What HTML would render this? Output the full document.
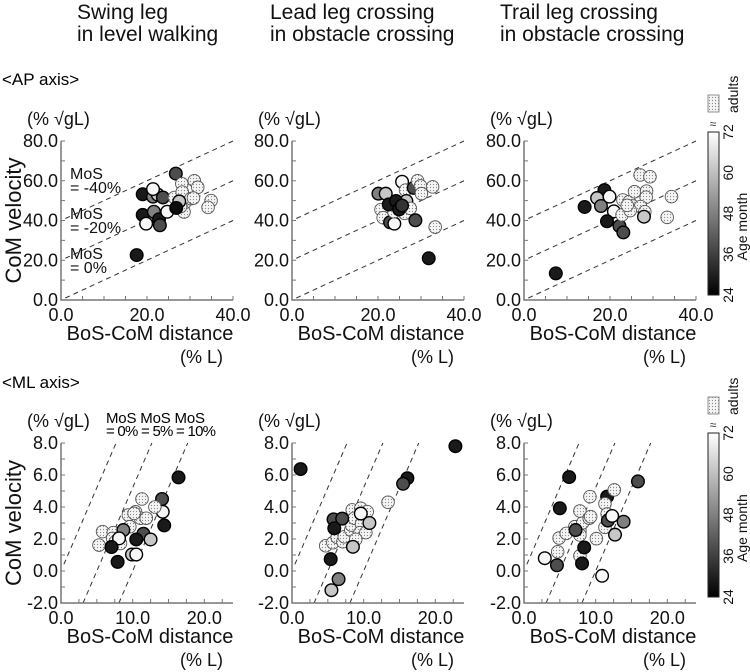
<!DOCTYPE html>
<html><head><meta charset="utf-8"><style>
body{margin:0;background:#fff;}
svg{display:block;font-family:"Liberation Sans",Arial,sans-serif;}
</style></head><body>
<svg id="chart" width="750" height="672" viewBox="0 0 750 672">
<defs>
<pattern id="adultPat" width="3" height="3" patternUnits="userSpaceOnUse">
<rect width="3" height="3" fill="#f4f4f4"/><circle cx="1.5" cy="1.5" r="0.6" fill="#888"/>
</pattern>
<linearGradient id="cbGrad" x1="0" y1="1" x2="0" y2="0"><stop offset="0" stop-color="#000"/><stop offset="1" stop-color="#fff"/></linearGradient>
</defs>
<g font-size="21" fill="#111">
<text x="77" y="19">Swing leg</text>
<text x="77" y="41">in level walking</text>
<text x="270" y="19">Lead leg crossing</text>
<text x="270" y="41">in obstacle crossing</text>
<text x="500" y="19">Trail leg crossing</text>
<text x="500" y="41">in obstacle crossing</text>
</g>
<text x="2" y="85" font-size="17">&lt;AP axis&gt;</text>
<text x="2" y="388" font-size="17">&lt;ML axis&gt;</text>
<text x="106" y="423" font-size="15" textLength="99" lengthAdjust="spacing" xml:space="preserve">MoS MoS MoS</text>
<text x="106" y="436" font-size="15" textLength="110" lengthAdjust="spacing">= 0% = 5% = 10%</text>
<g id="plots"></g>
</svg>
<script>
// AP panels: [x, y, shade] shade -1 = adult
const apSwing=[[19,53.2,0.1],[21.4,52,0.5],[22.5,53,0.78],[23.7,51.6,0.3],[21.4,55.8,0.97],[26.7,63.6,0.3],[19,42.8,0.1],[19.8,38.4,0.97],[21.6,44.4,0.5],[22.8,40.6,0.1],[23,37.6,0.3],[24.7,44.4,0.97],[17.6,22.6,0.1],[26.4,51.6,-1],[28.1,58.5,-1],[31,60,-1],[31.8,56.7,-1],[28.2,54.3,-1],[28.7,48.6,-1],[30.2,51,-1],[30.8,51.3,-1],[28.6,44.3,-1],[34.9,50,-1],[34.2,46.6,-1],[27.8,47,-1],[27.5,49.6,0.78],[26.8,46.3,0.05]];
const apLead=[[20.1,53.5,0.5],[21.8,53.5,0.78],[25.6,59.5,0.97],[26.4,55.3,-1],[26.6,49.8,0.78],[28.3,56.4,0.3],[29.2,60,-1],[29.9,57.4,-1],[30.1,53.5,-1],[32.7,56.9,-1],[20.7,45.5,-1],[21.2,41.4,-1],[22.8,39.1,0.3],[23.8,38.4,0.97],[26.2,43.6,-1],[27.5,46.1,-1],[28.7,40.1,0.3],[33.3,36.7,-1],[31.8,21,0.1],[23.7,44.4,-1],[22.5,48.1,0.1],[24.2,49.8,0.1],[24.9,45.6,0.1],[25.6,47.5,0.2]];
const apTrail=[[7.4,13.4,0.1],[14.1,46.8,0.1],[18.7,55.3,0.1],[17,51.3,0.78],[17.9,47.3,0.5],[19.9,52,0.97],[20.9,44.6,0.97],[19.3,39.6,0.1],[22.2,37.2,0.3],[23.1,34,0.3],[23,50.3,-1],[24.5,49.5,-1],[25.3,47.3,-1],[27,62.9,-1],[29.3,62,-1],[25.7,54.5,-1],[28.5,54.8,-1],[28.4,51.7,-1],[27.1,47,-1],[22.8,42.8,-1],[24.7,45,-1],[28.1,44.4,-1],[34.3,52,-1],[33.3,41.6,-1],[24,47.6,-1],[27.9,41.9,0.78]];
// ML panels
const mlSwing=[[16.4,5.85,0.1],[14.1,4.5,0.3],[14.2,3.7,0.97],[14.4,2.85,0.1],[11.5,2.33,0.3],[12.5,1.97,0.78],[10.5,1.97,0.1],[5.3,1.62,-1],[5.8,2.46,-1],[7.3,2.4,-1],[7.2,2.04,-1],[7.6,1.83,-1],[8.3,1.72,-1],[9.4,3.5,-1],[9.6,2.77,-1],[10.4,3.7,-1],[11.1,3.3,-1],[11.9,3.3,-1],[11.3,4.5,-1],[13.1,4,-1],[10.2,3.6,-1],[8.7,2.56,0.5],[8.1,2.04,0.97],[7.05,1.5,0.1],[7.9,0.57,0.1],[9.9,1.03,0.78],[10.5,1.03,0.97]];
const mlLead=[[1.2,6.37,0.1],[22.8,7.8,0.1],[16.1,5.8,0.1],[15.5,5.45,0.3],[13.4,4.3,-1],[4.7,1.58,-1],[5.7,1.77,-1],[6.3,2.1,-1],[7.1,1.83,-1],[7.3,2.14,-1],[8.2,2.56,-1],[8.3,2.87,-1],[8.4,3.82,-1],[8.7,3.3,-1],[9.6,3.92,-1],[9.7,2.94,-1],[9.5,2.4,-1],[10.3,2.4,-1],[10.5,3.71,-1],[8.9,1.98,-1],[5.8,3.23,0.3],[7,3.27,0.3],[5.9,2.67,0.1],[5.4,0.74,0.1],[6.5,-0.51,0.5],[5.5,-1.2,0.78],[8.5,1.51,0.78],[9.6,3.59,0.97],[10.8,3,0.78]];
const mlTrail=[[6.3,5.87,0.1],[5,3.92,0.1],[11.6,4.65,0.1],[4.7,1.2,-1],[4.9,2.06,-1],[5.9,2.35,-1],[7.1,2.77,-1],[7.8,2.52,-1],[7.8,2.25,-1],[8.2,3.02,-1],[7.8,3.75,-1],[9.1,3.3,-1],[9.3,3.4,-1],[9.2,4.65,-1],[10.1,2.02,-1],[11.3,4.2,-1],[11.3,2.73,-1],[11.6,3.56,-1],[12.6,5.07,-1],[7.8,0.95,-1],[11.7,3.15,0.3],[12.3,3.44,0.97],[13.9,3.08,0.5],[15.9,5.6,0.3],[12.7,2.27,0.78],[8.4,1.47,0.1],[8.1,0.47,0.1],[10.9,-0.3,0.97],[2.9,0.8,0.97],[4.6,0.36,0.3],[7.2,2.56,0.3]];
const apYTicks=[0,20,40,60,80];
const apXTicks=[0,20,40];
const mlYTicks=[-2,0,2,4,6,8];
const mlXTicks=[0,10,20];
const apMoS=[0,-20,-40];
const mlMoS=[0,5,10];
const cbTicks=[24,36,48,60,72];

const NS="http://www.w3.org/2000/svg";
const root=document.getElementById('plots');
function mk(tag,attrs,parent,txt){const e=document.createElementNS(NS,tag);for(const k in attrs)e.setAttribute(k,attrs[k]);if(txt!==undefined)e.textContent=txt;(parent||root).appendChild(e);return e;}
function fmt(v){return v.toFixed(1);}
function shadeColor(s){const g=Math.round(s*255);return 'rgb('+g+','+g+','+g+')';}

function panel(name,ox,oy,w,h,xmin,xmax,ymin,ymax,xticks,yticks,xminor,yminor,data,mosList,mosFn,ytitle){
  const g=mk('g',{});
  
  
  const sx=v=>ox+(v-xmin)/(xmax-xmin)*w;
  const sy=v=>oy-(v-ymin)/(ymax-ymin)*h;
  mosList.forEach(m=>{
    const seg=mosFn(m);
    const l=mk('line',{x1:sx(seg[0]),y1:sy(seg[1]),x2:sx(seg[2]),y2:sy(seg[3]),stroke:'#333','stroke-width':1,'stroke-dasharray':'5,4'},g);
    
    
  });
  const ax=mk('path',{d:'M'+ox+' '+(oy-h)+' V'+oy+' H'+(ox+w),stroke:'#777','stroke-width':1.5,fill:'none'},g);
  
  
  for(let v=xmin;v<=xmax+1e-6;v+=xminor){mk('line',{x1:sx(v),x2:sx(v),y1:oy,y2:oy-4,stroke:'#777'},g);}
  for(let v=ymin;v<=ymax+1e-6;v+=yminor){mk('line',{x1:ox,x2:ox+4,y1:sy(v),y2:sy(v),stroke:'#777'},g);}
  xticks.forEach(v=>{const t=mk('text',{x:sx(v),y:oy+21,'font-size':18,'text-anchor':'middle',fill:'#111'},g,fmt(v));
    
    });
  yticks.forEach(v=>{const t=mk('text',{x:ox-3,y:sy(v)+6,'font-size':18,'text-anchor':'end',fill:'#111'},g,fmt(v));
    
    });
  data.forEach(d=>{
    const c=mk('circle',{cx:sx(d[0]),cy:sy(d[1]),r:6.3,fill:d[2]<0?'url(#adultPat)':shadeColor(d[2]),stroke:d[2]<0?'#555':'#000','stroke-width':d[2]<0?0.9:1.4},g);
    
    
  });
  const u=mk('text',{x:ox-34,y:oy-h-16,'font-size':18,fill:'#111'},g,'(% \u221AgL)');
  
  
  const xt=mk('text',{x:ox+w/2+3,y:oy+40,'font-size':20,'text-anchor':'middle',fill:'#111'},g,'BoS-CoM distance');
  
  
  const xu=mk('text',{x:ox+w-10,y:oy+63,'font-size':18,'text-anchor':'end',fill:'#111'},g,'(% L)');
  
  
  if(ytitle){const yt=mk('text',{x:0,y:0,'font-size':22,'text-anchor':'middle',fill:'#111',transform:'translate(21,'+(oy-h/2)+') rotate(-90)'},g,'CoM velocity');
    
    }
  return {sx,sy};
}
function apSeg(m){ const x0=1; return [x0,x0-m,40,40-m];}
function mlSeg(m){ let y0=-2; if(m+0.96*y0<0.4) y0=(0.4-m)/0.96; return [m+0.96*y0,y0,m+0.96*8,8];}
const oxs=[61,292,524];
const apData=[apSwing,apLead,apTrail];
const mlData=[mlSwing,mlLead,mlTrail];
const names=['swing','lead','trail'];
for(let i=0;i<3;i++){
  panel('ap-panel-'+names[i],oxs[i],300,172,159,0,40,0,80,apXTicks,apYTicks,5,10,apData[i],apMoS,apSeg,i===0);
  panel('ml-panel-'+names[i],oxs[i],603,172,160,0,24,-2,8,mlXTicks,mlYTicks,2.5,1,mlData[i],mlMoS,mlSeg,i===0);
}
const ann=[['MoS',70,179],['= -40%',70,193],['MoS',70,219],['= -20%',70,233],['MoS',70,259],['=    0%',70,273]];
ann.forEach(a=>{const t=mk('text',{x:a[1],y:a[2],'font-size':16,fill:'#111','xml:space':'preserve'},root,a[0]);
  
  });
function colorbar(top,bot,adTop){
  const g=mk('g',{});
  
  
  mk('rect',{x:708,y:top,width:11,height:bot-top,fill:'url(#cbGrad)',stroke:'#222','stroke-width':1},g);
  const sw=mk('rect',{x:708,y:adTop,width:11,height:17,fill:'url(#adultPat)',stroke:'#777','stroke-width':0.8},g);
  
  
  mk('text',{x:0,y:0,'font-size':14,fill:'#111','text-anchor':'start',transform:'translate(738,'+(adTop+18)+') rotate(-90)'},g,'adults');
  mk('text',{x:713,y:top-4,'font-size':12,fill:'#333','text-anchor':'middle'},g,'\u2248');
  cbTicks.forEach(v=>{const y=bot-(v-24)/48*(bot-top);
    const t=mk('text',{x:0,y:0,'font-size':14,fill:'#111','text-anchor':'middle',transform:'translate(733,'+y+') rotate(-90)'},g,String(v));
    
    });
  mk('text',{x:0,y:0,'font-size':14,fill:'#111','text-anchor':'middle',transform:'translate(747,'+(top+(bot-top)*0.58)+') rotate(-90)'},g,'Age month');
}
colorbar(132,295,95);
colorbar(433,597,397);
</script>
</body></html>
